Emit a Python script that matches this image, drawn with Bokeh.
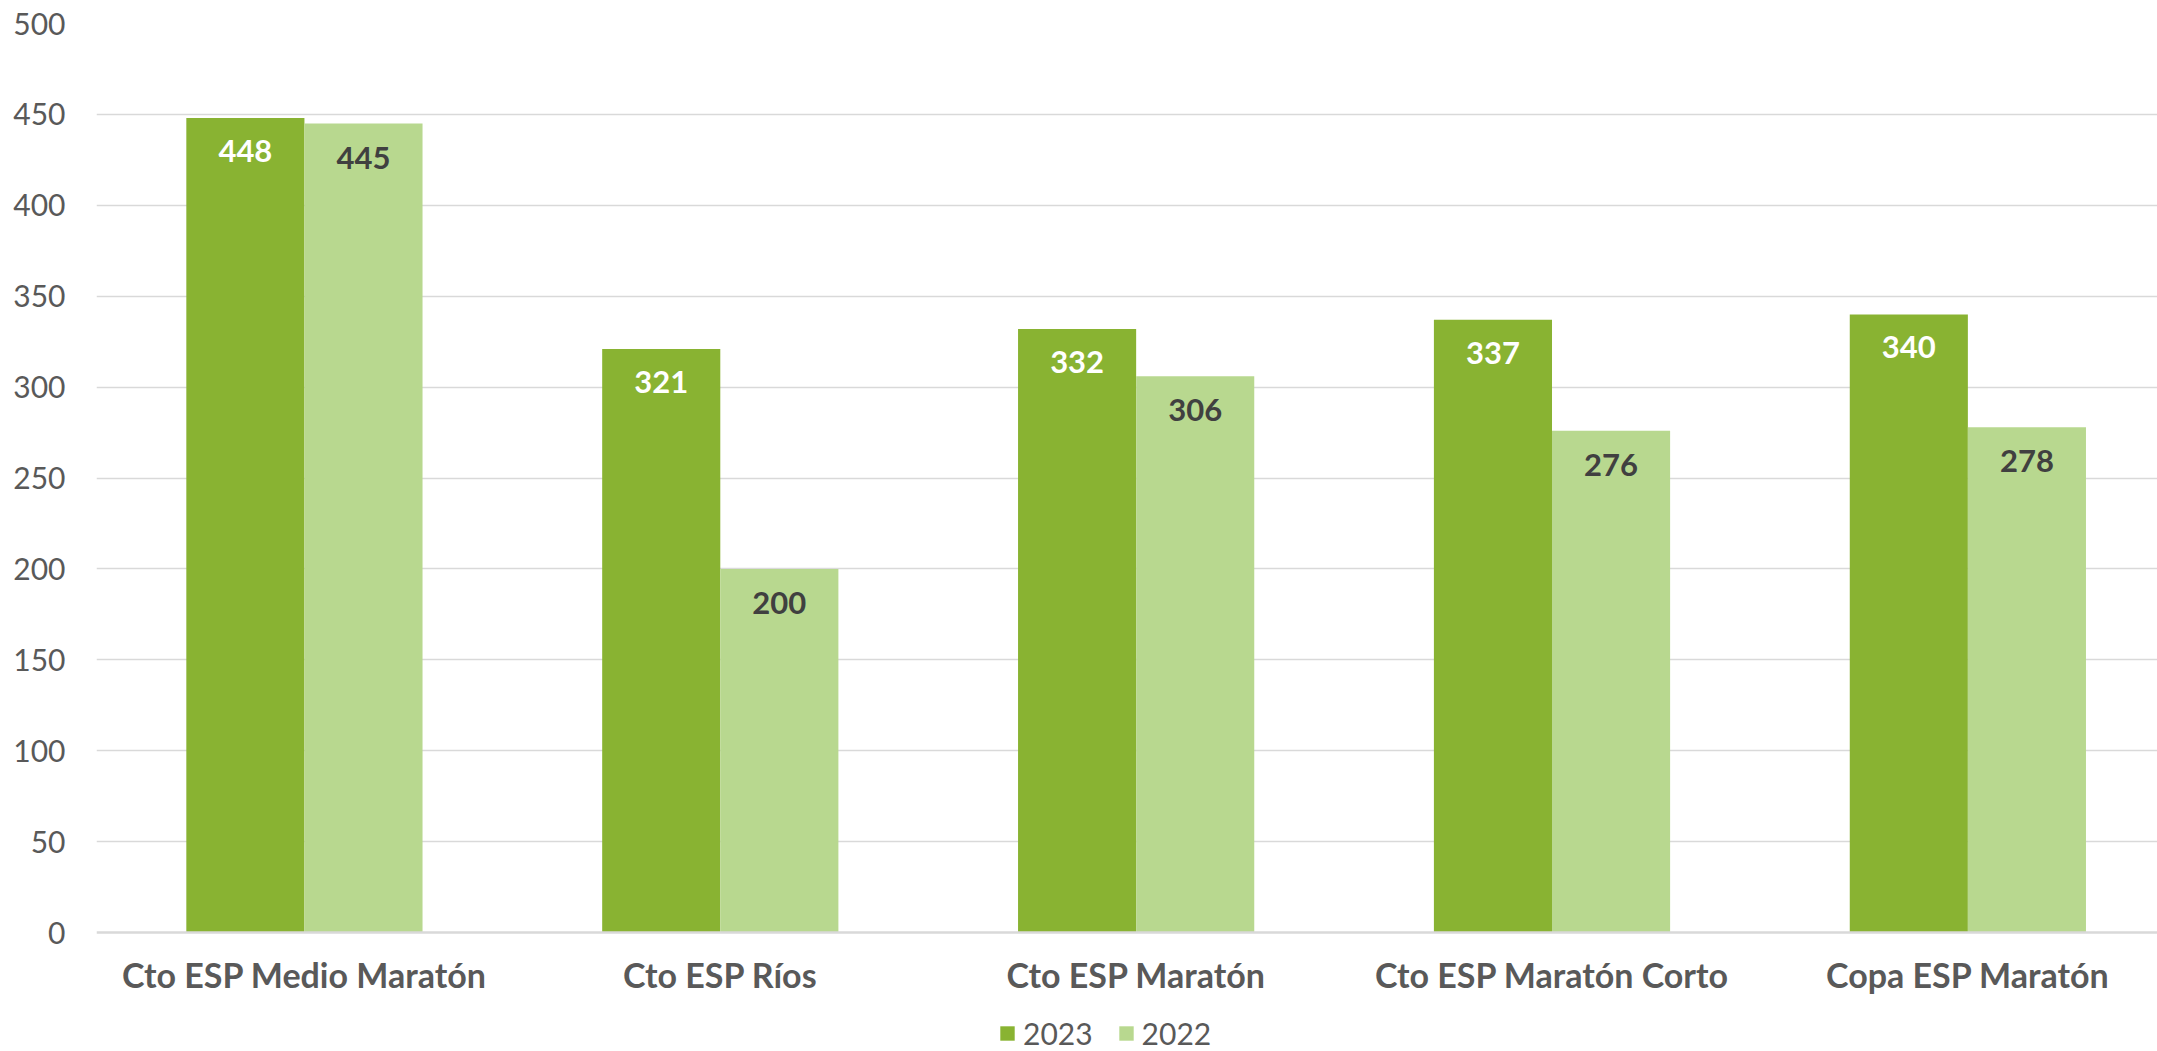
from bokeh.plotting import figure
from bokeh.models import ColumnDataSource, FixedTicker, Range1d, Legend, LegendItem, Span
from bokeh.core.properties import value
from bokeh.embed import file_html
from bokeh.resources import INLINE

categories = ["Cto ESP Medio Maratón", "Cto ESP Ríos", "Cto ESP Maratón",
              "Cto ESP Maratón Corto", "Copa ESP Maratón"]
values_2023 = [448, 321, 332, 337, 340]
values_2022 = [445, 200, 306, 276, 278]
y_ticks = [0, 50, 100, 150, 200, 250, 300, 350, 400, 450, 500]

C23 = "#89B332"
C22 = "#B8D88F"
FONT = "Lato"
GREY = "#595959"

idx = list(range(len(categories)))
bw = 0.284
src23 = ColumnDataSource(dict(x=[i - bw / 2 for i in idx], y=values_2023,
                              lab=[str(v) for v in values_2023]))
src22 = ColumnDataSource(dict(x=[i + bw / 2 for i in idx], y=values_2022,
                              lab=[str(v) for v in values_2022]))
src_cat = ColumnDataSource(dict(x=idx, y=[0] * len(idx), lab=categories))

# frame runs to the bottom of the page; the area below 0 holds category names and legend
p = figure(frame_width=2061, frame_height=1028, output_backend="svg", toolbar_location=None,
           x_range=Range1d(-0.5, 4.456), y_range=Range1d(-65.4, 500),
           min_border_left=96, min_border_right=0, min_border_top=23, min_border_bottom=0)
p.outline_line_color = None
p.background_fill_color = "white"
p.xaxis.visible = False

p.ygrid.ticker = FixedTicker(ticks=y_ticks[1:])
p.ygrid.grid_line_color = "#d9d9d9"
p.ygrid.grid_line_width = 1.5
p.xgrid.grid_line_color = None

p.add_layout(Span(location=0, dimension="width", line_color="#d9d9d9", line_width=2.5))

r23 = p.vbar(x="x", top="y", width=bw, source=src23, fill_color=C23, line_color=None)
r22 = p.vbar(x="x", top="y", width=bw, source=src22, fill_color=C22, line_color=None)

p.text(x="x", y="y", text="lab", source=src23, text_align="center", text_baseline="middle",
       y_offset=33, text_font=value(FONT), text_font_style="bold", text_font_size="31px",
       text_color="white")
p.text(x="x", y="y", text="lab", source=src22, text_align="center", text_baseline="middle",
       y_offset=34, text_font=value(FONT), text_font_style="bold", text_font_size="31px",
       text_color="#404040")

# category names under the baseline
p.text(x="x", y="y", text="lab", source=src_cat, text_align="center", text_baseline="middle",
       y_offset=42, text_font=value(FONT), text_font_style="bold", text_font_size="34px",
       text_color=GREY)

# y axis
p.yaxis.ticker = FixedTicker(ticks=y_ticks)
p.yaxis.axis_line_color = None
p.yaxis.major_tick_line_color = None
p.yaxis.minor_tick_line_color = None
p.yaxis.major_label_text_font = FONT
p.yaxis.major_label_text_font_size = "30px"
p.yaxis.major_label_text_color = GREY
p.yaxis.major_label_standoff = 25

legend = Legend(items=[LegendItem(label="2023", renderers=[r23]),
                       LegendItem(label="2022", renderers=[r22])],
                orientation="horizontal", location=(902, 0))
legend.glyph_width = 18
legend.glyph_height = 18
legend.label_height = 18
legend.label_text_font = FONT
legend.label_text_font_size = "30px"
legend.label_text_color = GREY
legend.label_standoff = 7
legend.spacing = 24
legend.padding = 0
legend.margin = 0
legend.border_line_color = None
legend.background_fill_alpha = 0
p.add_layout(legend, "center")

open("out.html", "w").write(file_html(p, INLINE))
